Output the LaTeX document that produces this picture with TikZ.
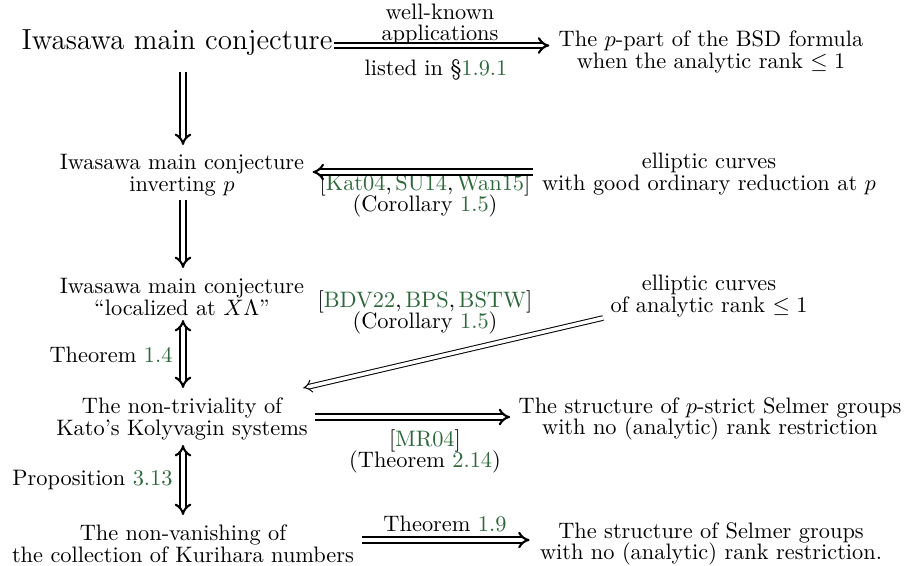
\documentclass[tikz,border=0pt]{standalone}
\usepackage{amssymb}
\usetikzlibrary{arrows.meta}
\definecolor{refgreen}{RGB}{46,105,60}
\lineskiplimit=-100pt
\newcommand{\rf}[1]{\textcolor{refgreen}{#1}}
\begin{document}
\begin{tikzpicture}[x=0.4472pt,y=-0.4472pt,
  txt/.style={align=center,inner sep=0pt,font=\fontsize{10}{9.7}\selectfont},
  big/.style={inner sep=0pt,font=\fontsize{13}{15}\selectfont},
  lbl/.style={align=center,inner sep=0pt,font=\fontsize{10}{9.4}\selectfont},
  imp/.style={double,line width=0.95pt,double distance=1.5pt,-{Implies[scale=1.25]}},
  impb/.style={double,line width=0.95pt,double distance=1.5pt,{Implies[scale=1.25]}-{Implies[scale=1.25]}},
  impthin/.style={double,line width=0.45pt,double distance=1.6pt,-{Implies[scale=1.3]}}]
\useasboundingbox (0,0) rectangle (906,565);
% main column
\node[big] (n1) at (177,43) {Iwasawa main conjecture};
\node[txt] (n2) at (182,175) {Iwasawa main conjecture\\inverting $p$};
\node[txt] (n3) at (182,297) {Iwasawa main conjecture\\``localized at $X\Lambda$''};
\node[txt] (n4) at (182,419) {The non-triviality of\\Kato's Kolyvagin systems};
\node[txt] (n5) at (183,544) {The non-vanishing of\\the collection of Kurihara numbers};
% right column
\node[txt] (r1) at (711,52) {The $p$-part of the BSD formula\\when the analytic rank $\le 1$};
\node[txt] (r2) at (709,174) {elliptic curves\\with good ordinary reduction at $p$};
\node[txt] (r3) at (709,296) {elliptic curves\\of analytic rank $\le 1$};
\node[txt] (r4) at (710,419) {The structure of $p$-strict Selmer groups\\with no (analytic) rank restriction};
\node[txt] (r5) at (711,544) {The structure of Selmer groups\\with no (analytic) rank restriction.};
% labels
\node[lbl] (l1a) at (440,24) {well-known\\applications};
\node[lbl] (l1b) at (436,70) {listed in \S\rf{1.9.1}};
\node[lbl] (l2) at (425,195) {[\rf{Kat04},\,\rf{SU14},\,\rf{Wan15}]\\(Corollary \rf{1.5})};
\node[lbl] (l3) at (425,312) {[\rf{BDV22},\,\rf{BPS},\,\rf{BSTW}]\\(Corollary \rf{1.5})};
\node[lbl] (l4) at (425,451) {[\rf{MR04}]\\(Theorem \rf{2.14})};
\node[lbl] (l5) at (445,524) {Theorem \rf{1.9}};
\node[lbl,anchor=east] (lt) at (173,355) {Theorem \rf{1.4}};
\node[lbl,anchor=east] (lp) at (173,480) {Proposition \rf{3.13}};
% horizontal arrows
\draw[imp] ([shift={(1,2.5)}]n1.east) -- ([shift={(-9,2.5)}]n1.east -| r1.west);
\draw[imp] ([shift={(-9,-2)}]r2.west) -- ([shift={(8,-2)}]r2.west -| n2.east);
\draw[imp] ([shift={(7,-2)}]n4.east) -- ([shift={(-8,-2)}]n4.east -| r4.west);
\draw[imp] ([shift={(8,-4)}]n5.east) -- ([shift={(-10,-4)}]n5.east -| r5.west);
% vertical arrows
\draw[imp] ([shift={(6,29)}]n1.center) -- ([shift={(1,-30)}]n2.center);
\draw[imp] ([shift={(1,25)}]n2.center) -- ([shift={(1,-29)}]n3.center);
\draw[impb] ([shift={(1,23)}]n3.center) -- ([shift={(1,-31)}]n4.center);
\draw[impb] ([shift={(1,26)}]n4.center) -- ([shift={(0,-29)}]n5.center);
% diagonal arrow
\draw[impthin] ([shift={(-7,22)}]r3.west) -- ([shift={(-5,-31)}]n4.east);
\end{tikzpicture}
\end{document}
